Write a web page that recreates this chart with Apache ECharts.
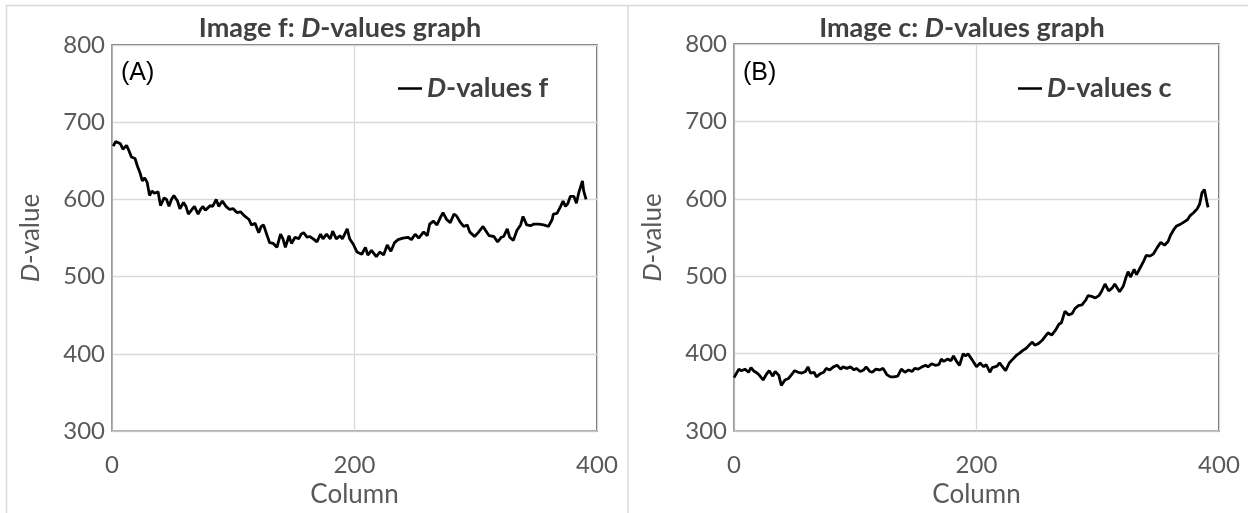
<!DOCTYPE html>
<html lang="en">
<head>
    <meta charset="UTF-8">
    <script src="https://cdn.jsdelivr.net/npm/echarts@6/dist/echarts.min.js"></script>
    <style>
        html, body { margin: 0; padding: 0; background: #fff; }
        #main { width: 1248px; height: 513px; }
    </style>
</head>
<body>
<div id="main"></div>
<script type="text/javascript">
    // D-values, image f (panel A): column -> value
    var colsF = [1, 3, 7, 9, 12, 14, 16, 19, 21, 23, 25, 27, 29, 31, 33, 35, 38, 40, 43, 45,
        47, 49, 51, 54, 56, 59, 61, 63, 66, 68, 71, 73, 75, 77, 81, 83, 86, 88, 91, 94,
        97, 100, 103, 106, 109, 113, 115, 118, 121, 123, 125, 128, 130, 133, 136, 139, 141, 143, 146, 148,
        151, 154, 156, 158, 161, 163, 166, 169, 172, 174, 177, 180, 182, 185, 188, 190, 194, 196, 199, 202,
        203, 206, 209, 211, 214, 218, 221, 224, 227, 230, 233, 236, 240, 244, 247, 250, 253, 257, 260, 262,
        265, 268, 271, 273, 276, 279, 282, 284, 287, 290, 293, 295, 299, 302, 306, 308, 311, 315, 318, 321,
        323, 326, 328, 331, 334, 337, 339, 342, 345, 348, 352, 356, 360, 363, 364, 367, 370, 372, 374, 376,
        378, 381, 383, 385, 388, 389, 391];
    var valsF = [669, 675, 672, 665, 670, 663, 655, 653, 643, 635, 624, 628, 622, 605, 611, 608, 610, 592, 602, 600,
        591, 600, 605, 598, 588, 596, 591, 581, 587, 591, 581, 587, 591, 586, 592, 591, 600, 591, 598, 591,
        587, 588, 583, 584, 579, 574, 567, 569, 557, 565, 567, 553, 544, 543, 538, 555, 549, 538, 553, 543,
        551, 549, 555, 557, 551, 552, 549, 545, 555, 549, 555, 549, 559, 549, 553, 549, 562, 549, 542, 532,
        533, 529, 538, 528, 534, 526, 532, 528, 541, 533, 544, 548, 550, 551, 548, 555, 550, 558, 553, 568,
        572, 567, 577, 583, 574, 570, 581, 579, 571, 565, 567, 558, 552, 557, 565, 560, 553, 552, 545, 551,
        552, 562, 551, 547, 560, 567, 578, 567, 566, 568, 568, 567, 565, 574, 581, 582, 591, 598, 591, 595,
        604, 604, 595, 609, 624, 611, 600];

    // D-values, image c (panel B)
    var colsC = [0, 4, 6, 9, 12, 14, 16, 19, 21, 24, 27, 29, 32, 34, 37, 39, 42, 45, 48, 50,
        53, 56, 59, 61, 63, 66, 68, 71, 74, 76, 79, 82, 85, 88, 90, 93, 96, 99, 101, 104,
        107, 109, 112, 114, 117, 120, 123, 126, 129, 132, 135, 138, 141, 144, 147, 149, 152, 155, 158, 160,
        163, 166, 169, 171, 173, 176, 179, 181, 184, 186, 189, 191, 193, 196, 200, 203, 206, 208, 211, 213,
        217, 219, 222, 224, 227, 230, 233, 235, 238, 241, 244, 246, 248, 251, 254, 257, 259, 262, 265, 268,
        270, 273, 276, 279, 281, 284, 287, 290, 292, 295, 298, 301, 303, 306, 309, 312, 314, 318, 321, 323,
        325, 327, 330, 332, 335, 338, 340, 343, 346, 349, 352, 355, 358, 360, 363, 365, 368, 371, 374, 376,
        379, 382, 384, 386, 388, 390, 391];
    var valsC = [369, 380, 378, 380, 376, 382, 378, 375, 372, 366, 374, 378, 371, 377, 372, 359, 366, 368, 374, 378,
        376, 375, 377, 383, 375, 376, 370, 374, 376, 381, 379, 383, 385, 380, 383, 381, 383, 379, 381, 377,
        379, 383, 377, 376, 380, 379, 381, 373, 370, 370, 371, 380, 376, 379, 377, 381, 380, 383, 385, 383,
        387, 385, 386, 393, 390, 393, 391, 397, 389, 385, 400, 397, 400, 393, 383, 388, 383, 386, 376, 382,
        384, 388, 382, 378, 388, 393, 398, 400, 404, 407, 412, 415, 411, 413, 417, 423, 427, 424, 430, 438,
        440, 455, 450, 452, 458, 462, 463, 469, 475, 474, 472, 475, 480, 490, 481, 485, 490, 480, 487, 497,
        506, 499, 509, 502, 511, 520, 527, 526, 529, 537, 544, 540, 545, 553, 561, 565, 567, 570, 573, 578,
        582, 587, 593, 608, 612, 596, 589];

    var xTicks = [0, 200, 400];
    var yTicks = [300, 400, 500, 600, 700, 800];

    function pairs(cols, vals) {
        return cols.map(function (c, i) { return [c, vals[i]]; });
    }

    var txt = '#595959';
    var font = 'Lato';
    var richName = {
        i: { fontStyle: 'italic', fontFamily: font, fontSize: 26, color: txt },
        n: { fontFamily: font, fontSize: 26, color: txt }
    };
    var richTitle = {
        b: { fontWeight: 'bold', fontFamily: font, fontSize: 27, color: '#404040' },
        bi: { fontWeight: 'bold', fontStyle: 'italic', fontFamily: font, fontSize: 27, color: '#404040' }
    };

    function xAxis(idx) {
        return {
            gridIndex: idx, type: 'value', min: xTicks[0], max: xTicks[2], interval: xTicks[1] - xTicks[0],
            name: 'Column', nameLocation: 'middle', nameGap: 47,
            nameTextStyle: { fontFamily: font, fontSize: 26, color: txt },
            axisLine: { show: true, onZero: false, lineStyle: { color: '#bfbfbf', width: 1.5 } },
            axisTick: { show: false },
            axisLabel: { fontFamily: font, fontSize: 24, color: txt, margin: 22 },
            splitLine: { show: true, lineStyle: { color: '#d9d9d9', width: 1.3 } }
        };
    }
    function yAxis(idx) {
        return {
            gridIndex: idx, type: 'value', min: yTicks[0], max: yTicks[5], interval: yTicks[1] - yTicks[0],
            name: '{i|D}{n|-value}', nameLocation: 'middle', nameGap: 68, nameRotate: 90,
            nameTextStyle: { rich: richName },
            axisLine: { show: true, lineStyle: { color: '#a6a6a6', width: 1.5 } },
            axisTick: { show: false },
            axisLabel: { fontFamily: font, fontSize: 24, color: txt, margin: 7 },
            splitLine: { show: true, lineStyle: { color: '#d9d9d9', width: 1.3 } }
        };
    }
    function legend(left, name) {
        return {
            left: left, top: 70, data: [name], icon: 'rect', itemWidth: 24, itemHeight: 2.5, itemGap: 4,
            formatter: function (n) { return '{bi|D}{b|' + n.slice(1) + '}'; },
            textStyle: { rich: richTitle }
        };
    }

    var myChart = echarts.init(document.getElementById('main'));
    var option = {
        backgroundColor: '#fff',
        animation: false,
        title: [
            { text: '{b|Image f: }{bi|D}{b|-values graph}', left: 335, top: 10, textAlign: 'center',
              textStyle: { rich: richTitle } },
            { text: '{b|Image c: }{bi|D}{b|-values graph}', left: 957, top: 10, textAlign: 'center',
              textStyle: { rich: richTitle } }
        ],
        legend: [legend(393, 'D-values f'), legend(1013, 'D-values c')],
        grid: [
            { left: 112, top: 45, width: 485, height: 388, show: true, borderColor: '#404040', borderWidth: 1.5 },
            { left: 734, top: 44, width: 485, height: 389, show: true, borderColor: '#404040', borderWidth: 1.5 }
        ],
        xAxis: [xAxis(0), xAxis(1)],
        yAxis: [yAxis(0), yAxis(1)],
        series: [
            { name: 'D-values f', type: 'line', xAxisIndex: 0, yAxisIndex: 0, data: pairs(colsF, valsF),
              showSymbol: false, symbol: 'none', lineStyle: { color: '#000', width: 2.8 }, itemStyle: { color: '#000' } },
            { name: 'D-values c', type: 'line', xAxisIndex: 1, yAxisIndex: 1, data: pairs(colsC, valsC),
              showSymbol: false, symbol: 'none', lineStyle: { color: '#000', width: 2.8 }, itemStyle: { color: '#000' } }
        ],
        graphic: [
            { type: 'rect', shape: { x: 6.5, y: 5.5, width: 1260, height: 530 }, silent: true,
              style: { fill: null, stroke: '#d9d9d9', lineWidth: 1.5 } },
            { type: 'line', shape: { x1: 628, y1: 5, x2: 628, y2: 520 }, silent: true,
              style: { stroke: '#d9d9d9', lineWidth: 1.5 } },
            { type: 'text', left: 121, top: 61, silent: true,
              style: { text: '(A)', font: '25px "Liberation Sans"', fill: '#000' } },
            { type: 'text', left: 743, top: 61, silent: true,
              style: { text: '(B)', font: '25px "Liberation Sans"', fill: '#000' } }
        ]
    };
    myChart.setOption(option);
</script>
</body>
</html>
